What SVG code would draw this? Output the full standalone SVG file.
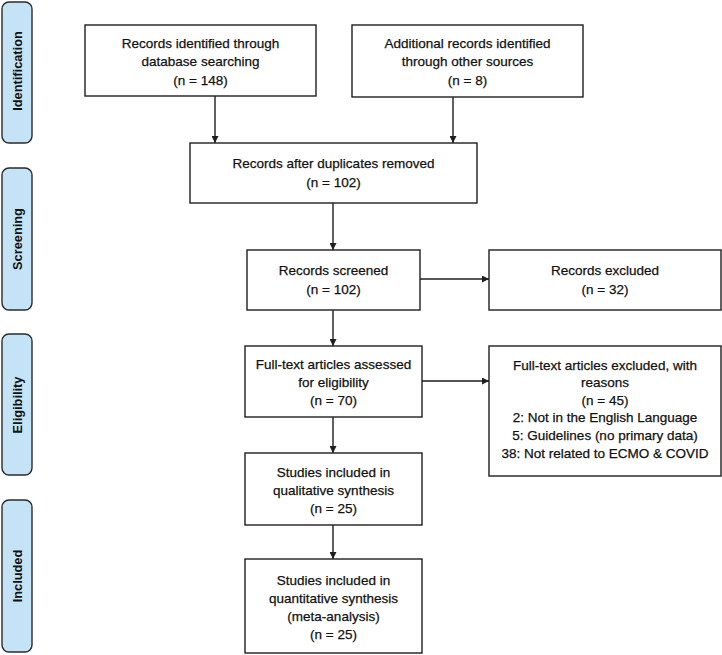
<svg xmlns="http://www.w3.org/2000/svg" width="722" height="655" viewBox="0 0 722 655">
<style>
.bg{fill:#ffffff}
.phase rect{fill:#c5e3f6;stroke:#2b2b2b;stroke-width:1.4}
.phase text{font-family:"Liberation Sans",Arial,sans-serif;font-weight:bold;font-size:12.8px;fill:#111;text-anchor:middle;dominant-baseline:central}
.box rect{fill:#fff;stroke:#1e1e1e;stroke-width:1.4}
.box text{font-family:"Liberation Sans",Arial,sans-serif;font-size:13.5px;fill:#111;stroke:#111;stroke-width:0.25;text-anchor:middle;dominant-baseline:central}
.conn line{stroke:#1e1e1e;stroke-width:1.4;marker-end:url(#ah)}
</style>
<defs>
<marker id="ah" viewBox="0 0 10 10" refX="10" refY="5" markerWidth="7" markerHeight="7" markerUnits="userSpaceOnUse" orient="auto">
<path d="M0,0 L10,5 L0,10 z" fill="#1e1e1e"/>
</marker>
</defs>
<rect class="bg" x="0" y="0" width="722" height="655"/>

<g id="phase-identification" class="phase"><rect x="2" y="2" width="30" height="141" rx="7"/><text transform="translate(17,71) rotate(-90)">Identification</text></g>
<g id="phase-screening" class="phase"><rect x="2" y="168" width="30" height="142" rx="7"/><text transform="translate(17,239) rotate(-90)">Screening</text></g>
<g id="phase-eligibility" class="phase"><rect x="2" y="334" width="30" height="141" rx="7"/><text transform="translate(17,405) rotate(-90)">Eligibility</text></g>
<g id="phase-included" class="phase"><rect x="2" y="500" width="30" height="152" rx="7"/><text transform="translate(17,576) rotate(-90)">Included</text></g>

<g id="db-search" class="box"><rect x="85" y="25" width="231" height="71"/>
<text x="200.5" y="43">Records identified through</text>
<text x="200.5" y="61.5">database searching</text>
<text x="200.5" y="80">(n = 148)</text></g>

<g id="other-sources" class="box"><rect x="352" y="25" width="231" height="72"/>
<text x="467.5" y="43">Additional records identified</text>
<text x="467.5" y="61.5">through other sources</text>
<text x="467.5" y="80">(n = 8)</text></g>

<g id="dup-removed" class="box"><rect x="190" y="143" width="287" height="60"/>
<text x="333.5" y="163">Records after duplicates removed</text>
<text x="333.5" y="182">(n = 102)</text></g>

<g id="screened" class="box"><rect x="247" y="250" width="173" height="60"/>
<text x="333.5" y="270">Records screened</text>
<text x="333.5" y="289">(n = 102)</text></g>

<g id="excluded" class="box"><rect x="489" y="250" width="232" height="60"/>
<text x="605" y="270">Records excluded</text>
<text x="605" y="289">(n = 32)</text></g>

<g id="fulltext" class="box"><rect x="245" y="346" width="177" height="71"/>
<text x="333.5" y="364">Full-text articles assessed</text>
<text x="333.5" y="382">for eligibility</text>
<text x="333.5" y="400">(n = 70)</text></g>

<g id="fulltext-excluded" class="box"><rect x="489" y="346" width="232" height="130"/>
<text x="605" y="365">Full-text articles excluded, with</text>
<text x="605" y="382.5">reasons</text>
<text x="605" y="400">(n = 45)</text>
<text x="605" y="417.5">2: Not in the English Language</text>
<text x="605" y="435.5">5: Guidelines (no primary data)</text>
<text x="605" y="453">38: Not related to ECMO &amp; COVID</text></g>

<g id="qualitative" class="box"><rect x="245" y="453" width="177" height="72"/>
<text x="333.5" y="472">Studies included in</text>
<text x="333.5" y="490">qualitative synthesis</text>
<text x="333.5" y="508">(n = 25)</text></g>

<g id="quantitative" class="box"><rect x="245" y="559" width="177" height="94"/>
<text x="333.5" y="580">Studies included in</text>
<text x="333.5" y="598">quantitative synthesis</text>
<text x="333.5" y="616">(meta-analysis)</text>
<text x="333.5" y="634">(n = 25)</text></g>

<g id="connectors" class="conn">
<line x1="215" y1="96" x2="215" y2="143"/>
<line x1="453" y1="97" x2="453" y2="143"/>
<line x1="333" y1="203" x2="333" y2="250"/>
<line x1="420" y1="279" x2="489" y2="279"/>
<line x1="333" y1="310" x2="333" y2="346"/>
<line x1="422" y1="381" x2="489" y2="381"/>
<line x1="333" y1="417" x2="333" y2="453"/>
<line x1="333" y1="525" x2="333" y2="559"/>
</g>
</svg>
